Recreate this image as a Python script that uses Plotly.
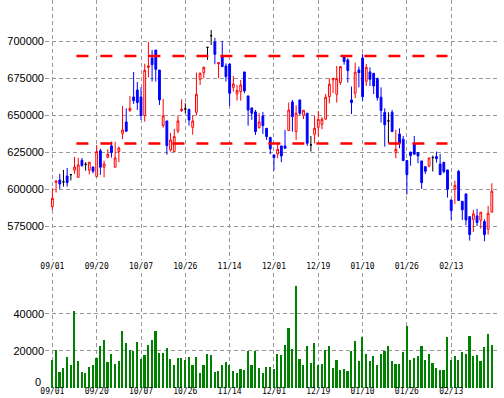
import plotly.graph_objects as go

# ---- data (index = trading day, 0..119) ----
tick_labels = ["09/01", "09/20", "10/07", "10/26", "11/14", "12/01", "12/19", "01/10", "01/26", "02/13"]
tick_step = 12

open_ = [588300, 604700, 606300, 605000, 609000, 609900, 612900, 608100, 619600, 616900,
         612900, 615100, 608600, 626100, 614900, 621600, 629300, 614900, 625500, 637800,
         645500, 653200, 662400, 667100, 662400, 649800, 682400, 688700, 694100, 680600,
         643000, 646200, 626600, 625500, 639400, 653200, 654300, 654100, 641900, 652000,
         674300, 678800, 695900, 703800, 699600, 684700, 690100, 683300, 684700, 668900,
         664400, 666000, 679300, 663100, 655000, 652300, 641700, 649600, 641200, 635100,
         623200, 623900, 629300, 629300, 639700, 659000, 639000, 660400, 650000, 651400,
         630000, 637200, 641900, 643900, 647500, 662600, 674000, 664200, 672100, 689600,
         687400, 660400, 664900, 680600, 688700, 673000, 679300, 678400, 675000, 662200,
         652000, 646200, 652000, 624800, 637400, 633800, 619400, 625200, 630600, 624800,
         619200, 615300, 615800, 621400, 622100, 617100, 618300, 613100, 592800, 600000,
         612200, 591900, 596900, 581500, 579500, 582000, 579100, 578200, 573000, 584500]
high = [600700, 605900, 610400, 613100, 614400, 609900, 621900, 621200, 621200, 618300,
        618300, 615100, 630000, 627500, 619400, 627000, 632200, 632000, 628800, 656300,
        654700, 663100, 679300, 672500, 668900, 684900, 699600, 694100, 694100, 680600,
        661000, 646200, 638100, 640800, 650000, 660800, 658100, 654100, 650000, 678800,
        678800, 682900, 695900, 707600, 702300, 686000, 700200, 685100, 684700, 676600,
        670500, 673900, 679300, 663100, 655000, 653600, 651400, 652300, 641200, 635100,
        623200, 631500, 629300, 640100, 658600, 660400, 656800, 660400, 653400, 651400,
        636000, 649600, 652900, 648700, 664400, 675000, 675000, 683300, 683300, 690100,
        688500, 669400, 685600, 682900, 691500, 684700, 682400, 678400, 675000, 668900,
        654700, 652000, 653600, 640100, 641200, 636000, 619400, 625200, 636000, 624800,
        619200, 615300, 621200, 622800, 625500, 623900, 618300, 613100, 592800, 605900,
        613100, 591900, 596900, 581500, 586100, 586700, 584500, 579700, 588800, 604100]
low = [586000, 597800, 600200, 601800, 601800, 605900, 610400, 608100, 615300, 612600,
       610100, 610800, 608600, 609700, 608100, 621000, 621400, 614900, 618300, 633800,
       639200, 652300, 657700, 653600, 646900, 645700, 675700, 672800, 672800, 657000,
       641700, 623400, 625500, 625500, 637800, 652300, 651400, 643000, 636900, 649800,
       670500, 675000, 687400, 697500, 684500, 675000, 682900, 672800, 656300, 666000,
       659900, 659900, 664900, 643000, 646900, 636700, 641000, 637400, 633300, 623700,
       612600, 621000, 618300, 627700, 639700, 639000, 633300, 650200, 647500, 629300,
       625500, 631100, 635600, 640600, 646900, 658100, 665000, 658600, 670500, 684200,
       672100, 650900, 661500, 668900, 659900, 669800, 669800, 664400, 659900, 645100,
       628800, 631100, 639000, 621000, 627700, 619400, 596400, 616000, 623700, 617600,
       600200, 610400, 614900, 612000, 618000, 609900, 610800, 594400, 579300, 590100,
       592400, 579300, 575700, 565300, 571200, 575200, 573400, 564900, 569400, 584500]
close = [593900, 605600, 603600, 605000, 604500, 609900, 615100, 616500, 616000, 616900,
         618300, 612200, 625500, 614900, 617100, 623700, 624800, 621200, 627900, 640100,
         639200, 654700, 659900, 658600, 649800, 680400, 683300, 684200, 681100, 660400,
         649600, 629500, 633300, 635600, 646200, 654100, 654300, 646900, 646200, 664200,
         678400, 682400, 695900, 703800, 691200, 685600, 682900, 676100, 664900, 671200,
         666700, 670500, 666400, 653600, 651400, 639000, 645500, 643000, 635600, 627300,
         621400, 627000, 622500, 627700, 653600, 649100, 651400, 651400, 653400, 631100,
         630000, 641200, 647300, 647300, 662200, 671000, 675000, 674800, 682900, 686300,
         680200, 658600, 679100, 678800, 662600, 682400, 674300, 669800, 661900, 653200,
         643700, 646200, 639000, 627000, 631100, 619400, 609900, 622800, 623700, 622500,
         604500, 612200, 621200, 621400, 620700, 609900, 612000, 600000, 585600, 602700,
         592400, 586100, 579300, 569400, 583400, 577500, 584500, 569400, 583800, 598700]
volume = [15000, 20300, 8700, 10800, 16800, 12300, 41400, 14400, 8500, 7900,
          11200, 12300, 16200, 22500, 25800, 13900, 18200, 12800, 14400, 30600,
          24200, 20400, 20000, 24700, 15500, 17700, 23100, 25800, 30600, 18600,
          18600, 21300, 15500, 12300, 16000, 16000, 15000, 16600, 12300, 16600,
          7900, 12300, 18000, 17500, 8500, 9000, 12300, 13900, 12000, 9000,
          7900, 10100, 9600, 20000, 12300, 20000, 10600, 7900, 11200, 11200,
          10000, 18200, 17700, 23100, 32300, 20900, 55000, 15500, 12300, 22500,
          13300, 24200, 12500, 12800, 20200, 22500, 10800, 15000, 9600, 10100,
          9000, 20000, 25200, 14400, 27400, 18200, 14400, 17100, 12300, 18200,
          19800, 22500, 14400, 12800, 12800, 19300, 33300, 15000, 16000, 17100,
          22500, 15000, 18200, 13300, 10600, 9600, 9600, 27400, 15000, 17100,
          15000, 19300, 18200, 27900, 17100, 17700, 14400, 22000, 29000, 23100]

upper_level = 690000
lower_level = 631000
level_start, level_end = 6.5, 107.0

price_ticks = [575000, 600000, 625000, 650000, 675000, 700000]
volume_ticks = [0, 20000, 40000]

# ---- build ----
idx = list(range(len(open_)))
norm = [i for i in idx if open_[i] != close[i]]
doji = [i for i in idx if open_[i] == close[i]]
tickvals = [k * tick_step for k in range(len(tick_labels))]

fig = go.Figure()
fig.add_trace(go.Candlestick(
    x=norm, open=[open_[i] for i in norm], high=[high[i] for i in norm],
    low=[low[i] for i in norm], close=[close[i] for i in norm],
    increasing=dict(line=dict(color="#ff0000", width=1), fillcolor="#ffffff"),
    decreasing=dict(line=dict(color="#0000ff", width=1), fillcolor="#0000ff"),
    xaxis="x", yaxis="y", showlegend=False, hoverinfo="skip"))
fig.add_trace(go.Candlestick(
    x=doji, open=[open_[i] for i in doji], high=[high[i] for i in doji],
    low=[low[i] for i in doji], close=[close[i] for i in doji],
    increasing=dict(line=dict(color="#000000", width=1), fillcolor="#000000"),
    decreasing=dict(line=dict(color="#000000", width=1), fillcolor="#000000"),
    xaxis="x", yaxis="y", showlegend=False, hoverinfo="skip"))
for lvl in (upper_level, lower_level):
    fig.add_trace(go.Scatter(x=[level_start, level_end], y=[lvl, lvl], mode="lines",
                             line=dict(color="#ff0000", width=2.5, dash="12px,12px"),
                             xaxis="x", yaxis="y", showlegend=False, hoverinfo="skip"))
fig.add_trace(go.Bar(x=idx, y=volume, width=0.45, marker=dict(color="#008000", line=dict(width=0)),
                     xaxis="x2", yaxis="y2", showlegend=False, hoverinfo="skip"))

grid = dict(showgrid=True, gridcolor="#999999", griddash="4px,3px", gridwidth=1,
            zeroline=False, showline=False, ticks="", automargin=False)
xfont = dict(family="DejaVu Sans Mono", size=8, color="#000000")
yfont = dict(family="Liberation Sans", size=11, color="#000000")
xr = [-2, 120.4]
H = 388.0
fig.update_layout(
    width=504, height=398, margin=dict(l=45, r=7, t=0, b=10),
    paper_bgcolor="#ffffff", plot_bgcolor="#ffffff",
    xaxis=dict(domain=[0, 1], anchor="y", range=xr, tickvals=tickvals, ticktext=tick_labels,
               tickfont=xfont, rangeslider=dict(visible=False), **grid),
    yaxis=dict(domain=[1 - 260 / H, 1], anchor="x", range=[552225, 727906],
               tickvals=price_ticks, ticktext=[str(v) for v in price_ticks], tickfont=yfont, **grid),
    xaxis2=dict(domain=[0, 1], anchor="y2", range=xr, tickvals=tickvals, ticktext=tick_labels,
                tickfont=xfont, ticklabelstandoff=-3, **grid),
    yaxis2=dict(domain=[0, 115 / H], anchor="x2", range=[-200, 62000],
                tickvals=volume_ticks, ticktext=["", "20000", "40000"], tickfont=yfont, **grid),
    bargap=0,
    annotations=[dict(text="0", xref="paper", yref="y2", x=0, y=0, xanchor="right",
                      yanchor="middle", xshift=-2, yshift=6, showarrow=False, font=yfont)],
)
fig.write_html("out.html", config={"displayModeBar": False},
               post_script="document.body.style.margin='0';")
